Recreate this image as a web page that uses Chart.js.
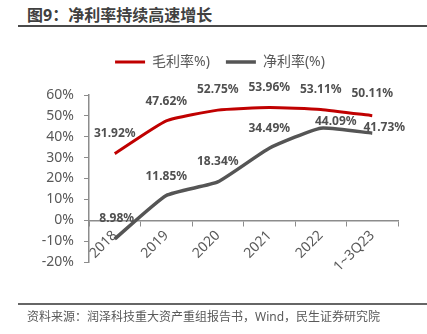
<!DOCTYPE html>
<html>
<head>
<meta charset="utf-8">
<script src="https://cdn.jsdelivr.net/npm/chart.js@4/dist/chart.umd.min.js"></script>
<style>
  html, body { margin: 0; padding: 0; background: #fff; }
  body { width: 427px; height: 334px; position: relative; overflow: hidden;
         font-family: "Noto Sans", "Noto Sans CJK SC", sans-serif; }
  #title { position: absolute; left: 27px; top: 4px; line-height: 22px; font-size: 16px;
           font-weight: bold; color: #404040; white-space: nowrap; }
  .rule { position: absolute; left: 18px; right: 0; height: 2px; background: #4a4a4a; }
  #source { position: absolute; left: 27px; top: 309px; line-height: 16px; font-size: 12px;
            color: #595959; white-space: nowrap; }
  #chart { position: absolute; left: 0; top: 0; }
</style>
</head>
<body>
<div id="title">图9：净利率持续高速增长</div>
<div class="rule" style="top:25px"></div>
<canvas id="chart" width="427" height="334"></canvas>
<div class="rule" style="top:303px;background:#666"></div>
<div id="source">资料来源：润泽科技重大资产重组报告书，Wind，民生证券研究院</div>

<script>
  var categories = ['2018', '2019', '2020', '2021', '2022', '1~3Q23'];
  var grossMargin = [31.92, 47.62, 52.75, 53.96, 53.11, 50.11];
  var netMargin = [-8.98, 11.85, 18.34, 34.49, 44.09, 41.73];
  var seriesNames = ['毛利率%)', '净利率(%)'];
  var yMin = -20, yMax = 60, yStep = 10;

  var textGray = '#595959';
  var axisGray = '#8c8c8c';
  var baseFont = '"Noto Sans", "Noto Sans CJK SC", sans-serif';

  // the source picture prints the 2018 net margin without its sign
  function labelText(v) {
    return Math.abs(v).toFixed(2) + '%';
  }

  var pointLabels = {
    id: 'pointLabels',
    afterDatasetsDraw: function(chart) {
      var ctx = chart.ctx;
      ctx.save();
      ctx.font = 'bold 12px ' + baseFont;
      ctx.fillStyle = '#505050';
      ctx.textAlign = 'center';
      ctx.textBaseline = 'middle';
      chart.data.datasets.forEach(function(ds, i) {
        chart.getDatasetMeta(i).data.forEach(function(pt, j) {
          var shift = (ds.labelShift && ds.labelShift[j]) || [0, -20];
          ctx.fillText(labelText(ds.data[j]), pt.x + shift[0], pt.y + shift[1]);
        });
      });
      ctx.restore();
    }
  };

  // extra room between legend and plot, and nudge it right a little
  var legendTweak = {
    id: 'legendTweak',
    beforeInit: function(chart) {
      var legend = chart.legend;
      var fit = legend.fit;
      var draw = legend.draw;
      legend.fit = function() {
        fit.call(this);
        this.height += 16;
      };
      legend.draw = function() {
        var ctx = this.ctx;
        ctx.save();
        ctx.translate(6, 0);
        draw.apply(this, arguments);
        ctx.restore();
      };
    }
  };

  new Chart(document.getElementById('chart').getContext('2d'), {
    type: 'line',
    data: {
      labels: categories,
      datasets: [
        {
          label: seriesNames[0],
          data: grossMargin,
          borderColor: '#c00000',
          backgroundColor: '#c00000',
          borderWidth: 3,
          pointRadius: 0,
          tension: 0.15,
          labelShift: [[0, -20], [0, -19], [0, -21], [0, -20], [0, -20], [0, -22]]
        },
        {
          label: seriesNames[1],
          data: netMargin,
          borderColor: '#555555',
          backgroundColor: '#555555',
          borderWidth: 3.5,
          pointRadius: 0,
          tension: 0.15,
          labelShift: [[2, -20], [0, -19], [0, -20], [0, -20], [15, -7], [12, -6]]
        }
      ]
    },
    options: {
      responsive: false,
      animation: false,
      devicePixelRatio: 1,
      layout: { padding: { left: 30, right: 29, top: 39, bottom: 72 } },
      plugins: {
        legend: {
          position: 'top',
          labels: {
            usePointStyle: true,
            pointStyle: 'line',
            pointStyleWidth: 30,
            padding: 16,
            color: textGray,
            font: { size: 14, family: baseFont }
          }
        },
        tooltip: { enabled: false }
      },
      scales: {
        x: {
          position: { y: 0 },
          offset: true,
          grid: { display: true, drawOnChartArea: false, drawTicks: true, tickLength: 5, color: axisGray, offset: true },
          border: { display: true, color: axisGray, width: 1.5 },
          ticks: { color: textGray, font: { size: 14, family: baseFont }, minRotation: 45, maxRotation: 45, padding: 2, autoSkip: false }
        },
        y: {
          min: yMin,
          max: yMax,
          grid: { display: true, drawOnChartArea: false, drawTicks: true, tickLength: 5, color: axisGray },
          border: { display: true, color: axisGray, width: 1.5 },
          ticks: {
            stepSize: yStep,
            padding: 10,
            color: textGray,
            font: { size: 14, family: baseFont },
            callback: function(v) { return v + '%'; }
          },
          afterFit: function(scale) { scale.width = 59; }
        }
      }
    },
    plugins: [pointLabels, legendTweak]
  });
</script>
</body>
</html>
